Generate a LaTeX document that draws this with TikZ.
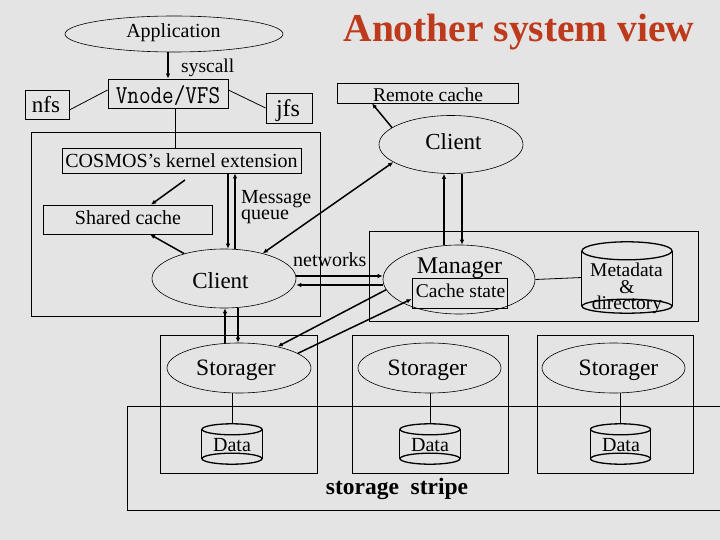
\documentclass[tikz,border=0pt]{standalone}
\usepackage{fontspec}
\setmainfont{Liberation Serif}
\usetikzlibrary{shapes.geometric,arrows.meta,calc}
\definecolor{bg}{RGB}{228,228,228}
\definecolor{titlered}{RGB}{190,58,28}
\newcommand{\fsz}[1]{\fontsize{#1}{#1}\selectfont}
\begin{document}
\begin{tikzpicture}[x=1pt,y=-1pt,
  box/.style={draw,line width=0.8pt,rectangle,inner sep=0pt},
  hid/.style={rectangle,inner sep=0pt},
  oval/.style={draw,ellipse,line width=0.6pt,inner sep=0pt},
  lbl/.style={inner sep=0pt,anchor=base},
  lblw/.style={inner sep=0pt,anchor=base west},
  ln/.style={line width=0.8pt},
  arr/.style={line width=1.5pt,-{Latex[length=5pt,width=4.5pt]}},
  arrb/.style={line width=1.5pt,{Latex[length=5pt,width=4.5pt]}-{Latex[length=5pt,width=4.5pt]}},
  cyl/.style={line width=1.3pt},
]
\fill[bg] (0,0) rectangle (720,540);
\useasboundingbox (0,0) rectangle (720,540);

% title
\node[lbl,text=titlered,font=\fsz{39.5}\bfseries] (title) at (519,42) {Another system view};

% top stack
\node[oval,minimum width=218pt,minimum height=36pt] (app) at (174,34) {};
\node[lbl,font=\fsz{20}] (appt) at (173.5,38) {Application};
\node[box,minimum width=120pt,minimum height=29pt] (vfs) at (168,93.5) {};
\node[lbl,font=\fsz{22.5}\ttfamily] (vfst) at (168,104) {\scalebox{1}[1.15]{Vnode/VFS}};
\node[box,minimum width=44pt,minimum height=29pt] (nfs) at (47,104.5) {};
\node[lbl,font=\fsz{23}] (nfst) at (46,113) {nfs};
\node[box,minimum width=46pt,minimum height=30pt] (jfs) at (289,108) {};
\node[lbl,font=\fsz{24}] (jfst) at (288,117) {jfs};
\node[lblw,font=\fsz{19.5}] (sysc) at (181,73) {syscall};

% remote client
\node[box,minimum width=181pt,minimum height=20pt] (rcache) at (427.5,93) {};
\node[lbl,font=\fsz{19.5}] (rcachet) at (428,101.5) {Remote cache};
\node[oval,minimum width=144pt,minimum height=58pt] (rcl) at (451,144.5) {};
\node[lbl,font=\fsz{23}] (rclt) at (453.5,150) {Client};

% kernel region
\node[box,minimum width=289pt,minimum height=184pt] (kreg) at (175.5,224) {};
\node[box,minimum width=239pt,minimum height=25pt] (kext) at (181.5,160.5) {};
\node[lbl,font=\fsz{20}] (kextt) at (181.5,168) {COSMOS’s kernel extension};
\node[box,minimum width=169pt,minimum height=29pt] (scache) at (127.5,219.5) {};
\node[lbl,font=\fsz{20}] (scachet) at (128,225) {Shared cache};
\node[lblw,font=\fsz{20}] (msg1) at (241,204) {Message};
\node[lblw,font=\fsz{20}] (msg2) at (241,219) {queue};
\node[oval,minimum width=144pt,minimum height=59pt] (lcl) at (224,278.5) {};
\node[lbl,font=\fsz{23}] (lclt) at (220.5,288) {Client};
\node[lblw,font=\fsz{20}] (netw) at (293,266) {networks};

% manager region
\node[box,minimum width=329pt,minimum height=90pt] (mreg) at (533.5,276) {};
\node[oval,minimum width=152pt,minimum height=69pt] (mgr) at (459,279.5) {};
\node[lbl,font=\fsz{24}] (mgrt) at (459.5,273) {Manager};
\node[box,minimum width=95pt,minimum height=30pt] (cst) at (459.5,293) {};
\node[lbl,font=\fsz{19.5}] (cstt) at (460.5,297) {Cache state};
\node[hid,minimum width=90pt,minimum height=71pt] (meta) at (627,277.5) {};
\draw[cyl] ([yshift=-9pt]meta.north) ellipse [x radius=45pt,y radius=9pt];
\draw[cyl] ([yshift=7pt]meta.south) ellipse [x radius=45pt,y radius=7pt];
\draw[cyl] ([yshift=-9pt]meta.north west) -- ([yshift=7pt]meta.south west)
           ([yshift=-9pt]meta.north east) -- ([yshift=7pt]meta.south east);
\node[lbl,font=\fsz{19.5}] (meta1) at (626.5,276) {Metadata};
\node[lbl,font=\fsz{19.5}] (meta2) at (627,293) {\&};
\node[lbl,font=\fsz{19.5}] (meta3) at (627,309) {directory};

% storagers
\node[box,minimum width=157pt,minimum height=138pt] (sb1) at (238.5,404) {};
\node[box,minimum width=156pt,minimum height=138pt] (sb2) at (430,404) {};
\node[box,minimum width=156pt,minimum height=138pt] (sb3) at (615,404) {};
\node[oval,minimum width=144pt,minimum height=50pt] (st1) at (239,368) {};
\node[oval,minimum width=143pt,minimum height=50pt] (st2) at (429.5,368) {};
\node[oval,minimum width=143pt,minimum height=50pt] (st3) at (613.5,368) {};
\node[lbl,font=\fsz{23.5}] (st1t) at (236,375) {Storager};
\node[lbl,font=\fsz{23.5}] (st2t) at (427.5,375) {Storager};
\node[lbl,font=\fsz{23.5}] (st3t) at (618.5,375) {Storager};

\foreach \n/\x/\tx in {d1/232/232, d2/430/430, d3/620.5/621}{
  \node[hid,minimum width=60pt,minimum height=40pt] (\n) at (\x,444) {};
  \draw[cyl] ([yshift=-5.5pt]\n.north) ellipse [x radius=30pt,y radius=5.5pt];
  \draw[cyl] ([yshift=5.5pt]\n.south) ellipse [x radius=30pt,y radius=5.5pt];
  \draw[cyl] ([yshift=-5.5pt]\n.north west) -- ([yshift=5.5pt]\n.south west)
             ([yshift=-5.5pt]\n.north east) -- ([yshift=5.5pt]\n.south east);
  \node[lbl,font=\fsz{20}] (\n t) at (\tx,451) {Data};
}
\draw[ln] (st1.south -| d1.north) -- (d1.north);
\draw[ln] (st2.south -| d2.north) -- (d2.north);
\draw[ln] (st3.south -| d3.north) -- (d3.north);

% storage stripe
\draw[ln] (740,406) -- (127,406) -- (127,510) -- (740,510);
\node[lbl,font=\fsz{23.5}\bfseries] (stripe) at (397,494) {storage\ \ stripe};

% helper coordinates
\coordinate (vx) at (175,0);
\coordinate (ks) at (185,180);
\coordinate (kb) at (151,0);
\coordinate (sc) at (150,0);
\coordinate (mqa) at (228,0);
\coordinate (mqb) at (235,0);
\coordinate (rca) at (372,0);
\coordinate (va) at (444,0);
\coordinate (vb) at (462,0);
\coordinate (na) at (0,276);
\coordinate (nb) at (0,285);
\coordinate (sa) at (225,0);
\coordinate (sbx) at (238,0);

% connectors
\draw[arr] (app.south -| vfs.north) -- (vfs.north);
\draw[ln] ([yshift=3.5pt]vfs.west) -- ([yshift=-5.5pt]nfs.east);
\draw[ln] ([yshift=3.5pt]vfs.east) -- (jfs.west);
\draw[ln] (vfs.south -| vx) -- (kext.north -| vx);
\draw[arr] (ks) -- (scache.north -| kb);
\draw[arr] (kext.south -| mqa) -- (lcl.north -| mqa);
\draw[arr] (lcl.north -| mqb) -- (kext.south -| mqb);
\draw[arr] (lcl.148) -- (scache.south -| sc);
\draw[arrb] (lcl.33) -- (rcl.197);
\draw[arr] (rcl.164) -- (rcache.south -| rca);
\draw[arr] (mgr.north -| va) -- (rcl.south -| va);
\draw[arr] (rcl.south -| vb) -- (mgr.north -| vb);
\draw[arr] (lcl.east |- na) -- (mgr.west |- na);
\draw[arr] (mgr.west |- nb) -- (lcl.east |- nb);
\draw[arr] (st1.north -| sa) -- (lcl.south -| sa);
\draw[arr] (lcl.south -| sbx) -- (st1.north -| sbx);
\draw[arr] (mgr.188) -- (st1.29);
\draw[arr] (st1.14) -- ([yshift=-6pt]cst.west);
\draw[ln] (mgr.east) -- (meta.west);
\end{tikzpicture}
\end{document}
